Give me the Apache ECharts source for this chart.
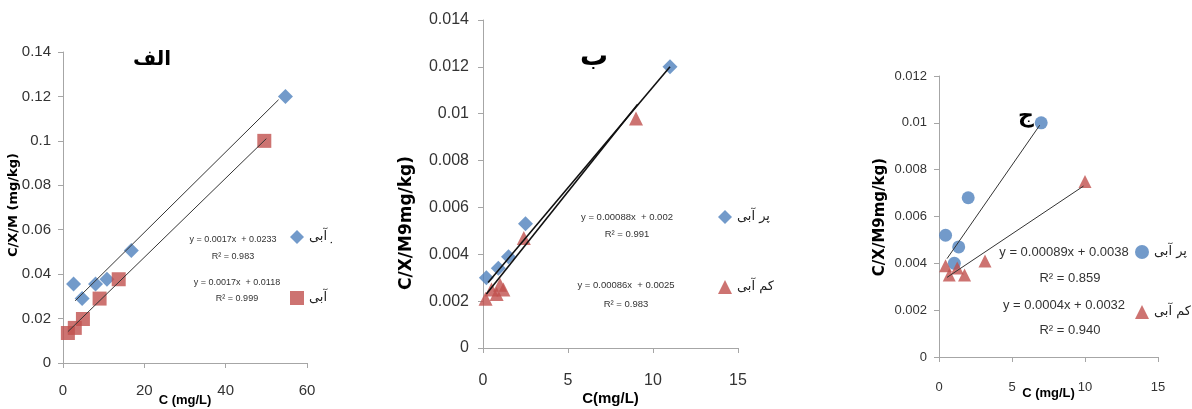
<!DOCTYPE html>
<html>
<head>
<meta charset="utf-8">
<script src="https://cdn.jsdelivr.net/npm/echarts@6/dist/echarts.min.js"></script>
<style>
  body { margin: 0; background: #fff; }
  .panel { position: absolute; top: 0; height: 409px; overflow: hidden; }
</style>
</head>
<body>
<div id="p1" class="panel" style="left:0;width:332px"></div>
<div id="p2" class="panel" style="left:352px;width:428px"></div>
<div id="p3" class="panel" style="left:858px;width:334px"></div>
<script>
// legend names
var highName = "پر آبی";
var lowName = "کم آبی";

// panel الف
var a_highX = [2.6, 4.7, 8.0, 10.8, 16.8, 54.7];
var a_highY = [0.0356, 0.029, 0.0356, 0.0377, 0.0506, 0.12];
var a_lowX = [1.2, 2.9, 4.9, 9.0, 13.7, 49.5];
var a_lowY = [0.0135, 0.0158, 0.0198, 0.029, 0.0377, 0.1];
var a_highFit = [[3, 0.028], [53, 0.1185]];
var a_lowFit = [[1.2, 0.0141], [50, 0.101]];
var a_eq = ["y = 0.0017x  + 0.0233", "R² = 0.983", "y = 0.0017x  + 0.0118", "R² = 0.999"];

// panel ب
var b_highX = [0.2, 0.9, 1.5, 2.5, 11.0];
var b_highY = [0.0030, 0.0034, 0.0039, 0.0053, 0.0120];
var b_lowX = [0.15, 0.5, 0.8, 1.0, 1.2, 2.4, 9.0];
var b_lowY = [0.0021, 0.0025, 0.0023, 0.0027, 0.0025, 0.0047, 0.0098];
var b_highFit = [[0.3, 0.0028], [11, 0.012]];
var b_lowFit = [[0.2, 0.0023], [9.1, 0.0104]];
var b_eq = ["y = 0.00088x  + 0.002", "R² = 0.991", "y = 0.00086x  + 0.0025", "R² = 0.983"];

// panel ج
var c_highX = [0.45, 1.05, 1.35, 2.0, 7.0];
var c_highY = [0.0052, 0.0040, 0.0047, 0.0068, 0.0100];
var c_lowX = [0.45, 0.7, 1.25, 1.75, 3.15, 10.0];
var c_lowY = [0.0039, 0.0035, 0.0038, 0.0035, 0.0041, 0.0075];
var c_highFit = [[0.55, 0.0042], [6.9, 0.0099]];
var c_lowFit = [[0.55, 0.0034], [9.9, 0.0073]];
var c_eq = ["y = 0.00089x + 0.0038", "R² = 0.859", "y = 0.0004x + 0.0032", "R² = 0.940"];

var BLUE = "#4F81BD";
var RED = "#C0504D";
var SANS = "'Liberation Sans', Arial, sans-serif";

function pairs(xs, ys) {
  return xs.map(function (x, i) { return [x, ys[i]]; });
}

function buildPanel(el, p) {
  var chart = echarts.init(document.getElementById(el));
  var graphics = [
    {
      type: "text", left: p.title.x, top: p.title.y,
      style: { text: p.title.text, font: "bold " + p.title.size + "px 'DejaVu Sans'", fill: "#000" }
    },
    {
      type: "text", x: p.yName.x, y: p.yName.y, rotation: Math.PI / 2,
      style: {
        text: p.yName.text, font: "bold " + p.yName.size + "px 'DejaVu Sans'",
        fill: "#000", align: "center", verticalAlign: "middle"
      }
    }
  ];
  p.eq.forEach(function (t, i) {
    graphics.push({
      type: "text", x: p.eqPos[i][0], y: p.eqPos[i][1],
      style: {
        text: t, font: p.eqFont, fill: "#333",
        align: "center", verticalAlign: "middle"
      }
    });
  });

  var axisLine = { show: true, lineStyle: { color: "#a6a6a6", width: 1 } };
  var axisTick = { show: true, length: 5, lineStyle: { color: "#a6a6a6" } };

  chart.setOption({
    animation: false,
    grid: Object.assign({ outerBoundsMode: "none", containLabel: false }, p.grid),
    legend: {
      orient: "vertical", left: p.legend.left, top: p.legend.top, padding: 0,
      itemWidth: 14, itemHeight: 14, itemGap: p.legend.gap,
      data: [highName, lowName],
      textStyle: { fontFamily: "DejaVu Sans", fontSize: 13, color: "#222" }
    },
    xAxis: {
      type: "value", min: 0, max: p.xMax, interval: p.xInt,
      name: p.xName.text, nameLocation: "middle", nameGap: p.xName.gap,
      nameMoveOverlap: false,
      nameTextStyle: { fontFamily: SANS, fontWeight: "bold", fontSize: p.xName.size, color: "#000" },
      axisLine: axisLine, axisTick: axisTick, splitLine: { show: false },
      axisLabel: { fontFamily: SANS, fontSize: p.labelSize, color: "#333", margin: p.xMargin }
    },
    yAxis: {
      type: "value", min: 0, max: p.yMax, interval: p.yInt,
      axisLine: axisLine, axisTick: axisTick, splitLine: { show: false },
      axisLabel: { fontFamily: SANS, fontSize: p.labelSize, color: "#333", margin: p.yMargin }
    },
    graphic: graphics,
    series: [
      {
        name: highName, type: "scatter", data: p.high, symbol: p.highSymbol,
        symbolSize: p.highSize, itemStyle: { color: BLUE }, z: 3
      },
      {
        name: lowName, type: "scatter", data: p.low, symbol: p.lowSymbol,
        symbolSize: p.lowSize, itemStyle: { color: RED }, z: 3
      },
      {
        type: "line", data: p.highFit, showSymbol: false, silent: true,
        lineStyle: { color: p.fitColor, width: p.fitWidth }, z: 4
      },
      {
        type: "line", data: p.lowFit, showSymbol: false, silent: true,
        lineStyle: { color: p.fitColor, width: p.fitWidth }, z: 4
      }
    ]
  });
}

buildPanel("p1", {
  grid: { left: 63, top: 52, width: 244, height: 311 },
  xMax: 60, xInt: 20, yMax: 0.14, yInt: 0.02,
  labelSize: 15, xMargin: 20, yMargin: 12,
  xName: { text: "C (mg/L)", gap: 31, size: 13 },
  yName: { text: "C/X/M (mg/kg)", x: 14, y: 205, size: 13 },
  title: { text: "الف", x: 133, y: 50, size: 20 },
  high: pairs(a_highX, a_highY), low: pairs(a_lowX, a_lowY),
  highSymbol: "diamond", lowSymbol: "rect", highSize: 15, lowSize: 14,
  highFit: a_highFit, lowFit: a_lowFit, fitColor: "#333", fitWidth: 1,
  eq: a_eq, eqFont: "9px " + SANS,
  eqPos: [[233, 240], [233, 257], [237, 283], [237, 299]],
  legend: { left: 290, top: 230, gap: 47 }
});

buildPanel("p2", {
  grid: { left: 131, top: 20, width: 255, height: 328 },
  xMax: 15, xInt: 5, yMax: 0.014, yInt: 0.002,
  labelSize: 16, xMargin: 25, yMargin: 14,
  xName: { text: "C(mg/L)", gap: 43, size: 15 },
  yName: { text: "C/X/M9mg/kg)", x: 55, y: 223, size: 17 },
  title: { text: "ب", x: 228, y: 44, size: 28 },
  high: pairs(b_highX, b_highY), low: pairs(b_lowX, b_lowY),
  highSymbol: "diamond", lowSymbol: "triangle", highSize: 15, lowSize: 14,
  highFit: b_highFit, lowFit: b_lowFit, fitColor: "#111", fitWidth: 1.6,
  eq: b_eq, eqFont: "9.5px " + SANS,
  eqPos: [[275, 217], [275, 234], [274, 285], [274, 304]],
  legend: { left: 366, top: 210, gap: 56 }
});

buildPanel("p3", {
  grid: { left: 81, top: 76, width: 219, height: 281 },
  xMax: 15, xInt: 5, yMax: 0.012, yInt: 0.002,
  labelSize: 13, xMargin: 24, yMargin: 12,
  xName: { text: "C (mg/L)", gap: 30, size: 13 },
  yName: { text: "C/X/M9mg/kg)", x: 22, y: 217, size: 15 },
  title: { text: "ج", x: 160, y: 105, size: 22 },
  high: pairs(c_highX, c_highY), low: pairs(c_lowX, c_lowY),
  highSymbol: "circle", lowSymbol: "triangle", highSize: 13, lowSize: 13,
  highFit: c_highFit, lowFit: c_lowFit, fitColor: "#333", fitWidth: 1,
  eq: c_eq, eqFont: "13px " + SANS,
  eqPos: [[206, 252], [212, 278], [206, 305], [212, 330]],
  legend: { left: 277, top: 245, gap: 46 }
});
</script>
</body>
</html>
